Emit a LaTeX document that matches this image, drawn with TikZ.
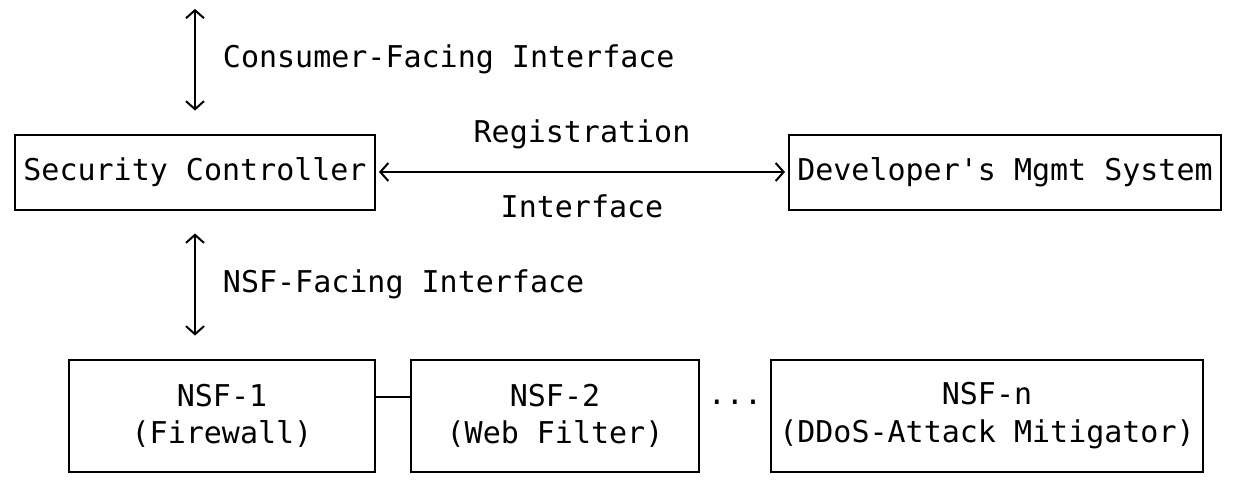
\documentclass[tikz,border=0pt]{standalone}
\usepackage{fontspec}
\setmonofont{DejaVu Sans Mono}
\usetikzlibrary{arrows.meta,positioning}

\begin{document}
\begin{tikzpicture}[
  x=9pt, y=-18.75pt,
  font=\ttfamily\fontsize{15}{18.75}\selectfont,
  line width=1pt,
  box/.style={draw, inner sep=0pt, outer sep=0pt, align=center, minimum height=37.5pt},
  nsf/.style={box, minimum height=56.25pt},
  lbl/.style={inner sep=0pt, text height=11pt, text depth=3.5pt},
  iface/.style={{Straight Barb[length=4pt,width=9pt]}-{Straight Barb[length=4pt,width=9pt]},
                shorten <=12pt, shorten >=12pt}
]
\useasboundingbox (-0.833,-0.587) rectangle (68.167,12.293);
% controller and developer system
\node[box, minimum width=180pt]                   (sc)   at (10,4) {Security Controller};
\node[box, minimum width=216pt, right=207pt of sc] (dev)  {Developer\textquotesingle s Mgmt System};
% network security functions
\node[nsf, minimum width=153pt]                    (nsf1) at (11.5,10.5) {NSF-1\\(Firewall)};
\node[nsf, minimum width=144pt, right=18pt of nsf1] (nsf2) {NSF-2\\(Web Filter)};
\node[nsf, minimum width=216pt, right=36pt of nsf2] (nsfn) {NSF-n\\(DDoS-Attack Mitigator)};
\coordinate (top) at (10,-0.35);
% interfaces
\draw[iface, shorten <=0pt] (top) -- (sc.north);
\node[lbl, anchor=west] (cfi) at (11.5,1) {Consumer-Facing Interface};
\draw[iface] (sc.south) -- (sc.south |- nsf1.north);
\node[lbl, anchor=west] (nfi) at (11.5,7) {NSF-Facing Interface};
\draw[iface, shorten <=2pt, shorten >=2pt] (sc.east) -- (dev.west)
  node[lbl, midway, yshift=18.75pt]  (reg) {Registration}
  node[lbl, midway, yshift=-18.75pt] (rif) {Interface};
\draw ([yshift=9.375pt]nsf1.east) -- ([yshift=9.375pt]nsf2.west);
\path ([yshift=9.375pt]nsf2.east) -- node[lbl] (dots) {...} ([yshift=9.375pt]nsfn.west);
\end{tikzpicture}
\end{document}
